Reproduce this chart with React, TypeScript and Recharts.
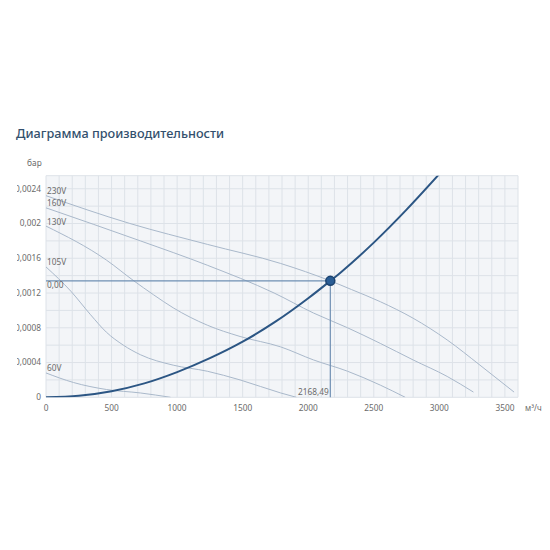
import {
  CartesianGrid,
  Label,
  Line,
  LineChart,
  ReferenceDot,
  ReferenceLine,
  XAxis,
  YAxis,
} from "recharts";

type Point = { flow: number; p: number };

const FLOW_TICKS = [
  0, 100, 200, 300, 400, 500, 600, 700, 800, 900, 1000, 1100, 1200, 1300,
  1400, 1500, 1600, 1700, 1800, 1900, 2000, 2100, 2200, 2300, 2400, 2500,
  2600, 2700, 2800, 2900, 3000, 3100, 3200, 3300, 3400, 3500, 3600,
];
const FLOW_LABELS = [0, 500, 1000, 1500, 2000, 2500, 3000, 3500];

const PRESSURE_TICKS = [
  0, 0.0002, 0.0004, 0.0006, 0.0008, 0.001, 0.0012, 0.0014, 0.0016, 0.0018,
  0.002, 0.0022, 0.0024, 0.00255,
];
const PRESSURE_LABELS = [0, 0.0004, 0.0008, 0.0012, 0.0016, 0.002, 0.0024];

// operating point
const WORK_FLOW = 2168.49;
const WORK_PRESSURE = 0.00134;

const curve230: Point[] = [
  { flow: 0, p: 0.00232 },
  { flow: 640, p: 0.002 },
  { flow: 1230, p: 0.00176 },
  { flow: 1790, p: 0.00154 },
  { flow: 2168.49, p: 0.00134 },
  { flow: 2330, p: 0.00124 },
  { flow: 2550, p: 0.0011 },
  { flow: 2800, p: 0.00091 },
  { flow: 3060, p: 0.00066 },
  { flow: 3310, p: 0.00037 },
  { flow: 3570, p: 0.00006 },
];

const curve160: Point[] = [
  { flow: 0, p: 0.00218 },
  { flow: 720, p: 0.0018 },
  { flow: 1230, p: 0.00152 },
  { flow: 1740, p: 0.0012 },
  { flow: 2040, p: 0.00097 },
  { flow: 2300, p: 0.0008 },
  { flow: 2550, p: 0.00062 },
  { flow: 2800, p: 0.00043 },
  { flow: 3060, p: 0.00024 },
  { flow: 3260, p: 0.00006 },
];

const curve130: Point[] = [
  { flow: 0, p: 0.00197 },
  { flow: 460, p: 0.00158 },
  { flow: 670, p: 0.00134 },
  { flow: 820, p: 0.00118 },
  { flow: 970, p: 0.00103 },
  { flow: 1230, p: 0.00083 },
  { flow: 1480, p: 0.0007 },
  { flow: 1790, p: 0.00058 },
  { flow: 2040, p: 0.00043 },
  { flow: 2300, p: 0.0003 },
  { flow: 2550, p: 0.00014 },
  { flow: 2740, p: 0 },
];

const curve105: Point[] = [
  { flow: 0, p: 0.0015 },
  { flow: 190, p: 0.00122 },
  { flow: 340, p: 0.00095 },
  { flow: 460, p: 0.00075 },
  { flow: 590, p: 0.0006 },
  { flow: 720, p: 0.00049 },
  { flow: 970, p: 0.00037 },
  { flow: 1230, p: 0.0003 },
  { flow: 1480, p: 0.0002 },
  { flow: 1790, p: 0.00005 },
  { flow: 1910, p: 0 },
];

const curve60: Point[] = [
  { flow: 0, p: 0.00028 },
  { flow: 210, p: 0.00017 },
  { flow: 460, p: 0.00009 },
  { flow: 720, p: 0.00005 },
  { flow: 950, p: 0 },
];

const systemCurve: Point[] = [
  { flow: 0, p: 0 },
  { flow: 250, p: 0.000018 },
  { flow: 500, p: 0.00007 },
  { flow: 750, p: 0.00016 },
  { flow: 1000, p: 0.00029 },
  { flow: 1250, p: 0.00045 },
  { flow: 1500, p: 0.00064 },
  { flow: 1750, p: 0.00087 },
  { flow: 2000, p: 0.00114 },
  { flow: 2168.49, p: 0.00134 },
  { flow: 2250, p: 0.00144 },
  { flow: 2500, p: 0.00178 },
  { flow: 2750, p: 0.00216 },
  { flow: 3000, p: 0.00257 },
];

const FAN_CURVES = [
  { name: "230V", data: curve230 },
  { name: "160V", data: curve160 },
  { name: "130V", data: curve130 },
  { name: "105V", data: curve105 },
  { name: "60V", data: curve60 },
];

const FONT = "'Noto Sans', 'Open Sans', sans-serif";
const TEXT_GRAY = "#6b6b6b";
const FAN_COLOR = "#a9b8ca";
const SYSTEM_COLOR = "#2c5684";
const GUIDE_COLOR = "#6f8fb3";

function formatPressure(value: number) {
  const shown = PRESSURE_LABELS.some((v) => Math.abs(v - value) < 1e-7);
  if (!shown) return "";
  return value === 0 ? "0" : String(value).replace(".", ",");
}

function formatFlow(value: number) {
  return FLOW_LABELS.includes(value) ? String(value) : "";
}

export default function App() {
  return (
    <div
      style={{
        position: "relative",
        width: 534,
        height: 420,
        fontFamily: FONT,
      }}
    >
      <div
        style={{
          position: "absolute",
          left: 8,
          top: 119,
          fontSize: 12.7,
          lineHeight: "12.7px",
          fontWeight: 500,
          color: "#33506d",
          whiteSpace: "nowrap",
        }}
      >
        Диаграмма производительности
      </div>

      <div
        style={{
          position: "absolute",
          left: 0,
          width: 33.7,
          top: 150.6,
          fontSize: 8.3,
          lineHeight: "8.3px",
          textAlign: "right",
          color: TEXT_GRAY,
        }}
      >
        бар
      </div>

      <div style={{ position: "absolute", left: 9, top: 142 }}>
        <LineChart
          width={533}
          height={272}
          margin={{ top: 25.7, right: 32, bottom: 2.7, left: 0 }}
          style={{ fontFamily: FONT }}
        >
          <CartesianGrid fill="#f3f5f8" stroke="#dde2e8" strokeWidth={1} />
          <XAxis
            type="number"
            dataKey="flow"
            domain={[0, 3600]}
            ticks={FLOW_TICKS}
            interval={0}
            allowDataOverflow
            axisLine={false}
            tickLine={false}
            tickSize={0}
            tickMargin={8}
            height={22}
            tick={{ fontSize: 8.3, fill: TEXT_GRAY }}
            tickFormatter={formatFlow}
          >
            <Label
              value="м³/ч"
              position="right"
              offset={7}
              style={{ fontSize: 8, fill: TEXT_GRAY }}
            />
          </XAxis>
          <YAxis
            type="number"
            dataKey="p"
            domain={[0, 0.00255]}
            ticks={PRESSURE_TICKS}
            interval={0}
            allowDataOverflow
            width={29}
            axisLine={false}
            tickLine={false}
            tickSize={0}
            tickMargin={5}
            tick={{ fontSize: 8.3, fill: TEXT_GRAY }}
            tickFormatter={formatPressure}
          />

          {FAN_CURVES.map((c) => (
            <Line
              key={c.name}
              data={c.data}
              dataKey="p"
              type="monotone"
              stroke={FAN_COLOR}
              strokeWidth={1}
              dot={false}
              activeDot={false}
              isAnimationActive={false}
            />
          ))}

          <Line
            data={systemCurve}
            dataKey="p"
            type="monotone"
            stroke={SYSTEM_COLOR}
            strokeWidth={2}
            dot={false}
            activeDot={false}
            isAnimationActive={false}
          />

          <ReferenceLine
            segment={[
              { x: 0, y: WORK_PRESSURE },
              { x: WORK_FLOW, y: WORK_PRESSURE },
            ]}
            stroke={GUIDE_COLOR}
            strokeWidth={1.2}
            label={(props: any) => {
              const vb = props.viewBox ?? {};
              return (
                <text
                  x={vb.x + 1}
                  y={vb.y + 7.5}
                  fontSize={8.3}
                  fill={TEXT_GRAY}
                  textAnchor="start"
                >
                  0,00
                </text>
              );
            }}
          />
          <ReferenceLine
            segment={[
              { x: WORK_FLOW, y: 0 },
              { x: WORK_FLOW, y: WORK_PRESSURE },
            ]}
            stroke={GUIDE_COLOR}
            strokeWidth={1.2}
            label={(props: any) => {
              const vb = props.viewBox ?? {};
              return (
                <text
                  x={vb.x - 1.5}
                  y={vb.y + vb.height - 2}
                  fontSize={8.3}
                  fill={TEXT_GRAY}
                  textAnchor="end"
                >
                  2168,49
                </text>
              );
            }}
          />

          {FAN_CURVES.map((c) => (
            <ReferenceDot
              key={"tag-" + c.name}
              x={0}
              y={c.data[0].p}
              r={1}
              fill="none"
              stroke="none"
              label={(props: any) => {
                const vb = props.viewBox ?? {};
                return (
                  <text
                    x={vb.x + 2}
                    y={vb.y - 0.5}
                    fontSize={8.3}
                    fill={TEXT_GRAY}
                    textAnchor="start"
                  >
                    {c.name}
                  </text>
                );
              }}
            />
          ))}

          <ReferenceDot
            x={WORK_FLOW}
            y={WORK_PRESSURE}
            r={4.5}
            fill="#2a5d95"
            stroke="#1b426f"
            strokeWidth={1.5}
          />
        </LineChart>
      </div>
    </div>
  );
}
